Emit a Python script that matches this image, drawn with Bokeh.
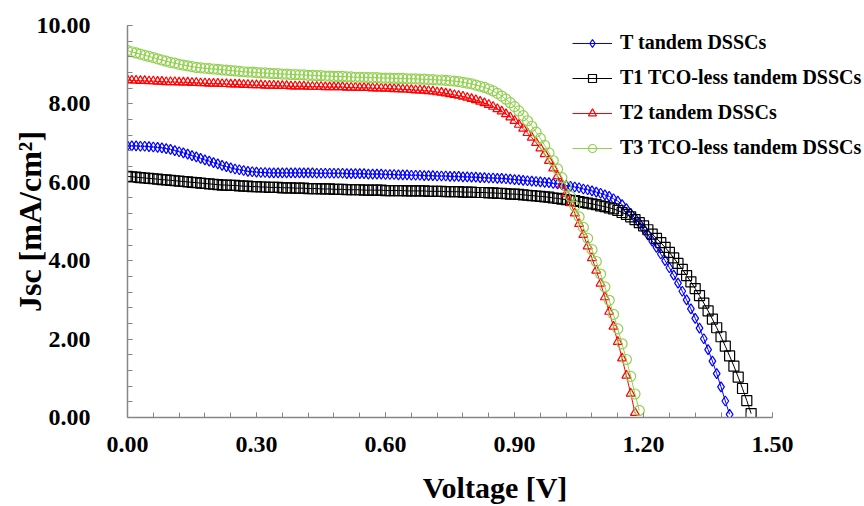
from bokeh.plotting import figure
from bokeh.models import Range1d, Legend, LegendItem, FixedTicker, NumeralTickFormatter
from bokeh.embed import file_html
from bokeh.resources import INLINE

V_STEP = 0.01  # voltage sampling step of the measured curves

# T tandem DSSCs (blue diamonds), Jsc in mA/cm2, from 0.00 V in 0.01 V steps
j_t = [6.93, 6.93, 6.93, 6.92, 6.92, 6.91, 6.90, 6.89, 6.88, 6.86, 6.84,
       6.81, 6.78, 6.75, 6.72, 6.68, 6.65, 6.61, 6.57, 6.54, 6.50,
       6.47, 6.43, 6.40, 6.37, 6.34, 6.32, 6.30, 6.28, 6.27, 6.26,
       6.25, 6.25, 6.24, 6.24, 6.24, 6.24, 6.24, 6.24, 6.24, 6.24,
       6.24, 6.24, 6.24, 6.23, 6.23, 6.23, 6.23, 6.23, 6.23, 6.23,
       6.22, 6.22, 6.22, 6.22, 6.22, 6.21, 6.21, 6.21, 6.21, 6.20,
       6.20, 6.20, 6.19, 6.19, 6.19, 6.18, 6.18, 6.18, 6.17, 6.17,
       6.17, 6.16, 6.16, 6.16, 6.15, 6.15, 6.15, 6.14, 6.14, 6.13,
       6.13, 6.12, 6.12, 6.11, 6.11, 6.10, 6.10, 6.09, 6.08, 6.07,
       6.06, 6.05, 6.04, 6.03, 6.02, 6.01, 6.00, 5.99, 5.97, 5.96,
       5.94, 5.92, 5.90, 5.88, 5.86, 5.83, 5.81, 5.78, 5.75, 5.72,
       5.68, 5.64, 5.58, 5.52, 5.43, 5.33, 5.21, 5.09, 4.96, 4.82,
       4.66, 4.50, 4.34, 4.17, 4.00, 3.82, 3.63, 3.43, 3.22, 3.00,
       2.77, 2.53, 2.28, 2.01, 1.73, 1.44, 1.12, 0.78, 0.42, 0.08]

# T1 TCO-less tandem DSSCs (black squares)
j_t1 = [6.15, 6.14, 6.13, 6.12, 6.11, 6.10, 6.09, 6.08, 6.07, 6.06, 6.05,
        6.04, 6.03, 6.02, 6.01, 6.00, 5.99, 5.98, 5.97, 5.96, 5.95,
        5.94, 5.93, 5.93, 5.92, 5.92, 5.91, 5.90, 5.90, 5.89, 5.89,
        5.88, 5.88, 5.87, 5.87, 5.87, 5.86, 5.86, 5.86, 5.85, 5.85,
        5.85, 5.84, 5.84, 5.84, 5.83, 5.83, 5.83, 5.82, 5.82, 5.82,
        5.81, 5.81, 5.81, 5.81, 5.80, 5.80, 5.80, 5.80, 5.80, 5.79,
        5.79, 5.79, 5.79, 5.79, 5.78, 5.78, 5.78, 5.78, 5.78, 5.77,
        5.77, 5.77, 5.77, 5.76, 5.76, 5.76, 5.76, 5.75, 5.75, 5.75,
        5.74, 5.74, 5.74, 5.73, 5.73, 5.72, 5.72, 5.71, 5.70, 5.70,
        5.69, 5.68, 5.67, 5.66, 5.65, 5.64, 5.63, 5.62, 5.60, 5.59,
        5.57, 5.56, 5.54, 5.53, 5.51, 5.49, 5.47, 5.45, 5.43, 5.40,
        5.38, 5.35, 5.32, 5.28, 5.23, 5.18, 5.12, 5.05, 4.97, 4.89,
        4.79, 4.68, 4.57, 4.46, 4.34, 4.21, 4.07, 3.93, 3.78, 3.62,
        3.46, 3.29, 3.11, 2.92, 2.72, 2.51, 2.29, 2.06, 1.82, 1.57,
        1.31, 1.03, 0.74, 0.43, 0.10]

# T2 tandem DSSCs (red triangles)
j_t2 = [8.61, 8.60, 8.60, 8.59, 8.59, 8.58, 8.58, 8.57, 8.57, 8.56, 8.56,
        8.56, 8.55, 8.55, 8.55, 8.54, 8.54, 8.53, 8.53, 8.52, 8.52,
        8.52, 8.51, 8.51, 8.50, 8.50, 8.50, 8.49, 8.49, 8.48, 8.48,
        8.48, 8.47, 8.47, 8.47, 8.46, 8.46, 8.46, 8.45, 8.45, 8.45,
        8.45, 8.44, 8.44, 8.44, 8.44, 8.43, 8.43, 8.43, 8.43, 8.43,
        8.42, 8.42, 8.42, 8.41, 8.41, 8.41, 8.40, 8.40, 8.40, 8.39,
        8.39, 8.38, 8.38, 8.37, 8.37, 8.36, 8.35, 8.35, 8.34, 8.33,
        8.32, 8.30, 8.29, 8.27, 8.25, 8.23, 8.21, 8.19, 8.16, 8.13,
        8.10, 8.06, 8.02, 7.98, 7.93, 7.87, 7.81, 7.74, 7.66, 7.57,
        7.47, 7.37, 7.26, 7.14, 7.01, 6.87, 6.72, 6.55, 6.36, 6.16,
        5.94, 5.71, 5.47, 5.21, 4.94, 4.66, 4.37, 4.07, 3.75, 3.42,
        3.07, 2.70, 2.32, 1.93, 1.51, 1.07, 0.61, 0.12]

# T3 TCO-less tandem DSSCs (green circles)
j_t3 = [9.36, 9.33, 9.30, 9.27, 9.24, 9.21, 9.18, 9.15, 9.12, 9.09, 9.06,
        9.04, 9.01, 8.99, 8.97, 8.95, 8.93, 8.92, 8.91, 8.90, 8.89,
        8.88, 8.87, 8.86, 8.85, 8.84, 8.83, 8.82, 8.81, 8.81, 8.80,
        8.79, 8.79, 8.78, 8.77, 8.77, 8.76, 8.76, 8.75, 8.75, 8.74,
        8.74, 8.73, 8.73, 8.72, 8.72, 8.71, 8.71, 8.70, 8.70, 8.70,
        8.69, 8.69, 8.68, 8.68, 8.68, 8.67, 8.67, 8.67, 8.66, 8.66,
        8.66, 8.65, 8.65, 8.65, 8.64, 8.64, 8.64, 8.63, 8.63, 8.62,
        8.62, 8.61, 8.61, 8.60, 8.59, 8.58, 8.57, 8.55, 8.53, 8.51,
        8.48, 8.45, 8.42, 8.38, 8.33, 8.27, 8.20, 8.12, 8.03, 7.93,
        7.82, 7.70, 7.57, 7.43, 7.28, 7.12, 6.94, 6.75, 6.55, 6.34,
        6.12, 5.89, 5.64, 5.39, 5.12, 4.85, 4.57, 4.28, 3.98, 3.66,
        3.33, 2.99, 2.63, 2.26, 1.88, 1.48, 1.05, 0.60, 0.18]

labels = ["T tandem DSSCs", "T1 TCO-less tandem DSSCs",
          "T2 tandem DSSCs", "T3 TCO-less tandem DSSCs"]
colors = ["#0000FF", "#000000", "#FF0000", "#92D050"]
markers = ["diamond", "square", "triangle", "circle"]
sizes = [10, 10, 9, 10]

x_major = [0.0, 0.3, 0.6, 0.9, 1.2, 1.5]
x_minor = [0.0, 0.06, 0.12, 0.18, 0.24, 0.3, 0.36, 0.42, 0.48, 0.54, 0.6, 0.66,
           0.72, 0.78, 0.84, 0.9, 0.96, 1.02, 1.08, 1.14, 1.2, 1.26, 1.32, 1.38,
           1.44, 1.5]
y_major = [0, 2, 4, 6, 8, 10]
y_minor = [0, 0.4, 0.8, 1.2, 1.6, 2.0, 2.4, 2.8, 3.2, 3.6, 4.0, 4.4, 4.8, 5.2,
           5.6, 6.0, 6.4, 6.8, 7.2, 7.6, 8.0, 8.4, 8.8, 9.2, 9.6, 10.0]
x_axis_span = (0.0, 1.5)
x_view_end = 1.709  # room at the right of the axis for the legend

FONT = "Liberation Serif"
AXIS_GRAY = "#868686"

p = figure(width=864, height=506, output_backend="svg", toolbar_location=None,
           x_range=Range1d(0, x_view_end), y_range=Range1d(0, 10),
           min_border_left=127, min_border_right=2, min_border_top=25,
           min_border_bottom=87)
p.outline_line_color = None
p.xgrid.visible = False
p.ygrid.visible = False

items = []
for j, lab, col, mk, sz in zip([j_t, j_t1, j_t2, j_t3], labels, colors, markers, sizes):
    volts = [round(i * V_STEP, 2) for i in range(len(j))]
    lr = p.line(volts, j, line_color=col, line_width=1)
    sr = p.scatter(volts, j, marker=mk, size=sz, line_color=col, fill_color=None,
                   line_width=1.2)
    items.append(LegendItem(label=lab, renderers=[lr, sr]))

for ax, maj, mino in [(p.xaxis[0], x_major, x_minor), (p.yaxis[0], y_major, y_minor)]:
    ax.ticker = FixedTicker(ticks=maj, minor_ticks=mino)
    ax.formatter = NumeralTickFormatter(format="0.00")
    ax.axis_line_color = AXIS_GRAY
    ax.axis_line_width = 1.5
    ax.major_tick_line_color = AXIS_GRAY
    ax.minor_tick_line_color = AXIS_GRAY
    ax.major_tick_in = 5
    ax.major_tick_out = 0
    ax.minor_tick_in = 5
    ax.minor_tick_out = 0
    ax.major_label_text_font = FONT
    ax.major_label_text_font_style = "bold"
    ax.major_label_text_font_size = "24px"
    ax.major_label_text_color = "#000000"
    ax.axis_label_text_font = FONT
    ax.axis_label_text_font_style = "bold"
    ax.axis_label_text_color = "#000000"

p.xaxis.bounds = x_axis_span
p.xaxis.axis_label = "Voltage [V]"
p.yaxis.axis_label = "Jsc [mA/cm\u00b2]"
p.xaxis.axis_label_text_font_size = "30px"
p.yaxis.axis_label_text_font_size = "32px"
p.xaxis.major_label_standoff = 19
p.xaxis.axis_label_standoff = 16
p.yaxis.major_label_standoff = 37
p.yaxis.axis_label_standoff = -14

legend = Legend(items=items, location=(445, 258), glyph_width=40, glyph_height=20,
                label_height=20, spacing=12, padding=0, margin=0, label_standoff=8,
                border_line_color=None, background_fill_alpha=0,
                label_text_font=FONT, label_text_font_style="bold",
                label_text_font_size="20px", label_text_color="#000000")
p.add_layout(legend)

open("out.html", "w").write(file_html(p, INLINE))
